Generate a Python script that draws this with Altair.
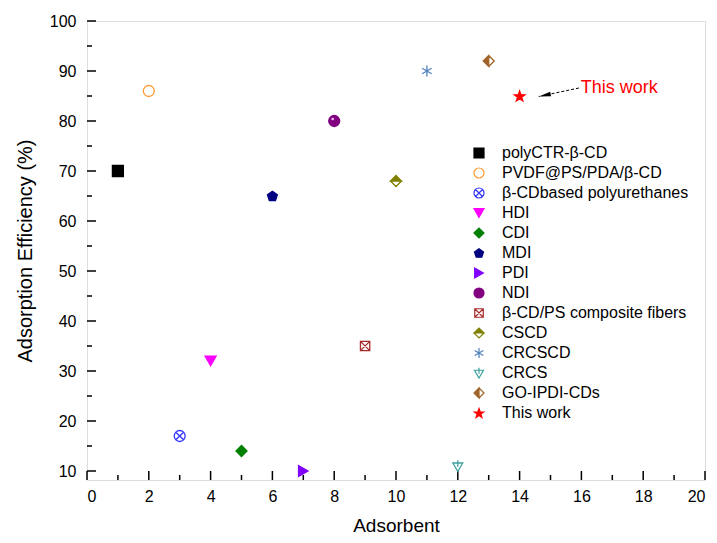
import math
import altair as alt
import pandas as pd

# ---- data ----
names = ["polyCTR-β-CD", "PVDF@PS/PDA/β-CD", " β-CDbased polyurethanes", "HDI", "CDI", "MDI",
         "PDI", "NDI", "β-CD/PS composite fibers", "CSCD", "CRCSCD", "CRCS", "GO-IPDI-CDs", "This work"]
adsorbent = [1, 2, 3, 4, 5, 6, 7, 8, 9, 10, 11, 12, 13, 14]
efficiency = [70, 86, 17, 32, 14, 65, 10, 80, 35, 68, 90, 11, 92, 85]
colors = ["#000000", "#FF9933", "#3333FF", "#FF00FF", "#008000", "#000080",
          "#8000FF", "#800080", "#A52A2A", "#808000", "#4F81BD", "#40A0A0", "#A0642A", "#FF0000"]
filled = [True, False, False, True, True, True, True, True, False, True, False, False, True, True]

x_major = [0, 2, 4, 6, 8, 10, 12, 14, 16, 18, 20]
x_minor = [1, 3, 5, 7, 9, 11, 13, 15, 17, 19]
y_major = [10, 20, 30, 40, 50, 60, 70, 80, 90, 100]
y_minor = [15, 25, 35, 45, 55, 65, 75, 85, 95]

note_text = ["This work"]
note_x = [15.98]
note_y = [86.6]
arrow_x = [15.92]
arrow_y = [86.6]
arrow_tip_x = [14.62]
arrow_tip_y = [84.9]

# ---- marker shapes (unit square -1..1) ----
def star_path():
    pts = []
    for i in range(10):
        r = 1.0 if i % 2 == 0 else 0.4
        a = math.radians(-90 + 36 * i)
        pts.append(f"{r*math.cos(a):.3f},{r*math.sin(a)+0.1:.3f}")
    return "M" + "L".join(pts) + "Z"

def pentagon_path():
    pts = []
    for i in range(5):
        a = math.radians(-90 + 72 * i)
        pts.append(f"{0.95*math.cos(a):.3f},{0.95*math.sin(a)+0.08:.3f}")
    return "M" + "L".join(pts) + "Z"

shapes = [
    "square",
    "circle",
    "M1,0A1,1 0 1,1 -1,0A1,1 0 1,1 1,0Z M-0.7,-0.7L0.7,0.7 M-0.7,0.7L0.7,-0.7",
    "triangle-down",
    "diamond",
    pentagon_path(),
    "triangle-right",
    "circle",
    "M-0.85,-0.85L0.85,-0.85L0.85,0.85L-0.85,0.85Z M-0.85,-0.85L0.85,0.85 M-0.85,0.85L0.85,-0.85",
    "M-1,0L0,-1L1,0Z M-1,0L0,1L1,0L0,1Z",
    "M0,-1L0,1 M-0.87,-0.5L0.87,0.5 M-0.87,0.5L0.87,-0.5",
    "M-0.9,-0.55L0.9,-0.55L0,1Z M0,-1.05L0,0.15",
    "M0,-1L-1,0L0,1Z M0,-1L1,0L0,1L1,0Z",
    star_path(),
]
fills = [c if f else "transparent" for c, f in zip(colors, filled)]

df = pd.DataFrame({"name": names, "x": adsorbent, "y": efficiency})

W, H = 618, 459
xs = alt.Scale(domain=[0, 20], nice=False, zero=False)
ys = alt.Scale(domain=[8.2, 100], nice=False, zero=False)

legend = alt.Legend(
    title=None, orient="none", legendX=384, legendY=124,
    labelFont="Liberation Sans", labelFontSize=16, labelColor="black",
    symbolSize=100, symbolStrokeWidth=1.2, symbolOpacity=1,
    labelOffset=15, rowPadding=4, padding=0, labelLimit=400,
)

points = alt.Chart(df).mark_point(size=120, opacity=1, strokeWidth=1.3).encode(
    x=alt.X("x:Q", scale=xs, title="Adsorbent",
            axis=alt.Axis(values=x_major, ticks=False, domain=False, grid=False,
                          labelFontSize=16, titleFontSize=19, labelPadding=8,
                          titlePadding=12, labelColor="black", titleColor="black",
                          titleFontWeight="normal", format="d")),
    y=alt.Y("y:Q", scale=ys, title="Adsorption Efficiency (%)",
            axis=alt.Axis(values=y_major, ticks=False, domain=False, grid=False,
                          labelFontSize=16, titleFontSize=20, labelPadding=11,
                          titlePadding=14, labelColor="black", titleColor="black",
                          titleFontWeight="normal", format="d")),
    shape=alt.Shape("name:N", scale=alt.Scale(domain=names, range=shapes), legend=legend),
    fill=alt.Fill("name:N", scale=alt.Scale(domain=names, range=fills), legend=legend),
    stroke=alt.Stroke("name:N", scale=alt.Scale(domain=names, range=colors), legend=legend),
)

# glossy highlight on the NDI sphere
shine = alt.Chart(df).transform_filter(alt.datum.name == "NDI").mark_point(
    shape="circle", size=7, filled=True, color="#F0C0F0", opacity=1
).encode(x=alt.X("x:Q", scale=xs), y=alt.Y("y:Q", scale=ys),
         xOffset=alt.value(-1.5), yOffset=alt.value(-2))

def tick_layer(vals, axis, length):
    d = pd.DataFrame({"v": vals})
    if axis == "x":
        return alt.Chart(d).mark_rule(color="black", strokeWidth=1.5).encode(
            x=alt.X("v:Q", scale=xs), y=alt.value(H), y2=alt.value(H - length))
    return alt.Chart(d).mark_rule(color="black", strokeWidth=1.5).encode(
        y=alt.Y("v:Q", scale=ys), x=alt.value(0), x2=alt.value(length))

ticks = (tick_layer(x_major, "x", 9) + tick_layer(x_minor, "x", 5) +
         tick_layer(y_major, "y", 9) + tick_layer(y_minor, "y", 5))

arrow_df = pd.DataFrame({"x": arrow_x, "y": arrow_y, "x2": arrow_tip_x, "y2": arrow_tip_y})
arrow_line = alt.Chart(arrow_df).mark_rule(color="black", strokeWidth=1, strokeDash=[3, 2]).encode(
    x=alt.X("x:Q", scale=xs), y=alt.Y("y:Q", scale=ys), x2="x2:Q", y2="y2:Q")
head = alt.Chart(pd.DataFrame({"x": arrow_tip_x, "y": arrow_tip_y})).mark_point(
    shape="M-1,0L1,-0.38L1,0.38Z", size=144, filled=True, color="black", opacity=1, angle=348
).encode(x=alt.X("x:Q", scale=xs), y=alt.Y("y:Q", scale=ys),
         xOffset=alt.value(6), yOffset=alt.value(-1.2))
label = alt.Chart(pd.DataFrame({"t": note_text, "x": note_x, "y": note_y})).mark_text(
    align="left", baseline="middle", color="#FF0000", fontSize=18, font="Liberation Sans"
).encode(x=alt.X("x:Q", scale=xs), y=alt.Y("y:Q", scale=ys), text="t:N")

chart = alt.layer(ticks, arrow_line, head, label, points, shine).properties(
    width=W, height=H,
    autosize=alt.AutoSizeParams(type="none"),
    padding={"left": 87, "top": 21, "right": 12, "bottom": 63},
    background="white",
).configure_view(stroke="black", strokeWidth=1.8).configure(font="Liberation Sans")

chart.save("out.html", embed_options={"renderer": "svg", "actions": False})
